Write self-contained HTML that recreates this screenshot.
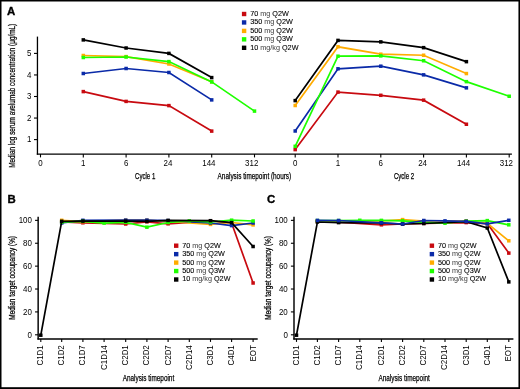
<!DOCTYPE html>
<html><head><meta charset="utf-8"><style>
html,body{margin:0;padding:0;background:#fff;}
body{width:520px;height:389px;overflow:hidden;font-family:"Liberation Sans",sans-serif;}
svg{display:block;will-change:transform;}
</style></head><body>
<svg width="520" height="389" viewBox="0 0 520 389" style="font-family:'Liberation Sans',sans-serif">
<rect width="520" height="389" fill="#fff"/>
<text x="7.00" y="14.90" font-size="11.4" text-anchor="start" font-weight="bold" fill="#000" stroke="#000" stroke-width="0.35">A</text>
<line x1="37.45" y1="36.60" x2="37.45" y2="154.70" stroke="#000" stroke-width="1.3"/>
<line x1="36.80" y1="154.05" x2="511.90" y2="154.05" stroke="#000" stroke-width="1.35"/>
<line x1="34.00" y1="139.60" x2="37.45" y2="139.60" stroke="#000" stroke-width="1.1"/>
<text x="31.30" y="142.20" font-size="8.2" text-anchor="end" textLength="4.42" lengthAdjust="spacingAndGlyphs" fill="#000" >1</text>
<line x1="34.00" y1="118.05" x2="37.45" y2="118.05" stroke="#000" stroke-width="1.1"/>
<text x="31.30" y="120.65" font-size="8.2" text-anchor="end" textLength="4.42" lengthAdjust="spacingAndGlyphs" fill="#000" >2</text>
<line x1="34.00" y1="96.50" x2="37.45" y2="96.50" stroke="#000" stroke-width="1.1"/>
<text x="31.30" y="99.10" font-size="8.2" text-anchor="end" textLength="4.42" lengthAdjust="spacingAndGlyphs" fill="#000" >3</text>
<line x1="34.00" y1="74.95" x2="37.45" y2="74.95" stroke="#000" stroke-width="1.1"/>
<text x="31.30" y="77.55" font-size="8.2" text-anchor="end" textLength="4.42" lengthAdjust="spacingAndGlyphs" fill="#000" >4</text>
<line x1="34.00" y1="53.40" x2="37.45" y2="53.40" stroke="#000" stroke-width="1.1"/>
<text x="31.30" y="56.00" font-size="8.2" text-anchor="end" textLength="4.42" lengthAdjust="spacingAndGlyphs" fill="#000" >5</text>
<line x1="40.50" y1="154.00" x2="40.50" y2="157.40" stroke="#000" stroke-width="1.1"/>
<text x="40.50" y="165.80" font-size="8.2" text-anchor="middle" textLength="4.42" lengthAdjust="spacingAndGlyphs" fill="#000" >0</text>
<line x1="83.30" y1="154.00" x2="83.30" y2="157.40" stroke="#000" stroke-width="1.1"/>
<text x="83.30" y="165.80" font-size="8.2" text-anchor="middle" textLength="4.42" lengthAdjust="spacingAndGlyphs" fill="#000" >1</text>
<line x1="126.10" y1="154.00" x2="126.10" y2="157.40" stroke="#000" stroke-width="1.1"/>
<text x="126.10" y="165.80" font-size="8.2" text-anchor="middle" textLength="4.42" lengthAdjust="spacingAndGlyphs" fill="#000" >6</text>
<line x1="168.90" y1="154.00" x2="168.90" y2="157.40" stroke="#000" stroke-width="1.1"/>
<text x="167.90" y="165.80" font-size="8.2" text-anchor="middle" textLength="8.85" lengthAdjust="spacingAndGlyphs" fill="#000" >24</text>
<line x1="211.70" y1="154.00" x2="211.70" y2="157.40" stroke="#000" stroke-width="1.1"/>
<text x="208.90" y="165.80" font-size="8.2" text-anchor="middle" textLength="13.27" lengthAdjust="spacingAndGlyphs" fill="#000" >144</text>
<line x1="254.50" y1="154.00" x2="254.50" y2="157.40" stroke="#000" stroke-width="1.1"/>
<text x="251.70" y="165.80" font-size="8.2" text-anchor="middle" textLength="13.27" lengthAdjust="spacingAndGlyphs" fill="#000" >312</text>
<line x1="295.20" y1="154.00" x2="295.20" y2="157.40" stroke="#000" stroke-width="1.1"/>
<text x="295.20" y="165.80" font-size="8.2" text-anchor="middle" textLength="4.42" lengthAdjust="spacingAndGlyphs" fill="#000" >0</text>
<line x1="338.00" y1="154.00" x2="338.00" y2="157.40" stroke="#000" stroke-width="1.1"/>
<text x="338.00" y="165.80" font-size="8.2" text-anchor="middle" textLength="4.42" lengthAdjust="spacingAndGlyphs" fill="#000" >1</text>
<line x1="380.80" y1="154.00" x2="380.80" y2="157.40" stroke="#000" stroke-width="1.1"/>
<text x="380.80" y="165.80" font-size="8.2" text-anchor="middle" textLength="4.42" lengthAdjust="spacingAndGlyphs" fill="#000" >6</text>
<line x1="423.60" y1="154.00" x2="423.60" y2="157.40" stroke="#000" stroke-width="1.1"/>
<text x="422.60" y="165.80" font-size="8.2" text-anchor="middle" textLength="8.85" lengthAdjust="spacingAndGlyphs" fill="#000" >24</text>
<line x1="466.40" y1="154.00" x2="466.40" y2="157.40" stroke="#000" stroke-width="1.1"/>
<text x="463.60" y="165.80" font-size="8.2" text-anchor="middle" textLength="13.27" lengthAdjust="spacingAndGlyphs" fill="#000" >144</text>
<line x1="509.20" y1="154.00" x2="509.20" y2="157.40" stroke="#000" stroke-width="1.1"/>
<text x="506.40" y="165.80" font-size="8.2" text-anchor="middle" textLength="13.27" lengthAdjust="spacingAndGlyphs" fill="#000" >312</text>
<text x="135.00" y="178.70" font-size="8.8" text-anchor="start" textLength="20.30" lengthAdjust="spacingAndGlyphs" fill="#000" stroke="#000" stroke-width="0.25">Cycle 1</text>
<text x="393.90" y="178.70" font-size="8.8" text-anchor="start" textLength="20.30" lengthAdjust="spacingAndGlyphs" fill="#000" stroke="#000" stroke-width="0.25">Cycle 2</text>
<text x="217.60" y="178.60" font-size="8.8" text-anchor="start" textLength="73.60" lengthAdjust="spacingAndGlyphs" fill="#000" stroke="#000" stroke-width="0.25">Analysis timepoint (hours)</text>
<text x="14.80" y="167.80" font-size="8.2" text-anchor="start" textLength="144.00" lengthAdjust="spacingAndGlyphs" transform="rotate(-90 14.80 167.80)" fill="#000" stroke="#000" stroke-width="0.25">Median log serum avelumab concentration (μg/mL)</text>
<polyline points="83.30,91.60 126.10,101.40 168.90,105.60 211.70,131.10" fill="none" stroke="#c80a10" stroke-width="1.7" stroke-linejoin="miter"/>
<rect x="81.55" y="89.85" width="3.5" height="3.5" fill="#c80a10"/>
<rect x="124.35" y="99.65" width="3.5" height="3.5" fill="#c80a10"/>
<rect x="167.15" y="103.85" width="3.5" height="3.5" fill="#c80a10"/>
<rect x="209.95" y="129.35" width="3.5" height="3.5" fill="#c80a10"/>
<polyline points="83.30,73.50 126.10,68.50 168.90,72.50 211.70,99.90" fill="none" stroke="#0a2aa8" stroke-width="1.7" stroke-linejoin="miter"/>
<rect x="81.55" y="71.75" width="3.5" height="3.5" fill="#0a2aa8"/>
<rect x="124.35" y="66.75" width="3.5" height="3.5" fill="#0a2aa8"/>
<rect x="167.15" y="70.75" width="3.5" height="3.5" fill="#0a2aa8"/>
<rect x="209.95" y="98.15" width="3.5" height="3.5" fill="#0a2aa8"/>
<polyline points="83.30,55.50 126.10,56.60 168.90,64.00 211.70,81.80" fill="none" stroke="#ffac00" stroke-width="1.7" stroke-linejoin="miter"/>
<rect x="81.55" y="53.75" width="3.5" height="3.5" fill="#ffac00"/>
<rect x="124.35" y="54.85" width="3.5" height="3.5" fill="#ffac00"/>
<rect x="167.15" y="62.25" width="3.5" height="3.5" fill="#ffac00"/>
<rect x="209.95" y="80.05" width="3.5" height="3.5" fill="#ffac00"/>
<polyline points="83.30,57.50 126.10,57.00 168.90,61.60 211.70,81.90 254.50,111.10" fill="none" stroke="#1eff00" stroke-width="1.7" stroke-linejoin="miter"/>
<rect x="81.55" y="55.75" width="3.5" height="3.5" fill="#1eff00"/>
<rect x="124.35" y="55.25" width="3.5" height="3.5" fill="#1eff00"/>
<rect x="167.15" y="59.85" width="3.5" height="3.5" fill="#1eff00"/>
<rect x="209.95" y="80.15" width="3.5" height="3.5" fill="#1eff00"/>
<rect x="252.75" y="109.35" width="3.5" height="3.5" fill="#1eff00"/>
<polyline points="83.30,39.90 126.10,48.00 168.90,53.40 211.70,77.60" fill="none" stroke="#000000" stroke-width="1.7" stroke-linejoin="miter"/>
<rect x="81.55" y="38.15" width="3.5" height="3.5" fill="#000000"/>
<rect x="124.35" y="46.25" width="3.5" height="3.5" fill="#000000"/>
<rect x="167.15" y="51.65" width="3.5" height="3.5" fill="#000000"/>
<rect x="209.95" y="75.85" width="3.5" height="3.5" fill="#000000"/>
<polyline points="295.20,149.60 338.00,92.10 380.80,95.30 423.60,100.15 466.40,124.25" fill="none" stroke="#c80a10" stroke-width="1.7" stroke-linejoin="miter"/>
<rect x="293.45" y="147.85" width="3.5" height="3.5" fill="#c80a10"/>
<rect x="336.25" y="90.35" width="3.5" height="3.5" fill="#c80a10"/>
<rect x="379.05" y="93.55" width="3.5" height="3.5" fill="#c80a10"/>
<rect x="421.85" y="98.40" width="3.5" height="3.5" fill="#c80a10"/>
<rect x="464.65" y="122.50" width="3.5" height="3.5" fill="#c80a10"/>
<polyline points="295.20,131.00 338.00,68.80 380.80,66.20 423.60,74.85 466.40,87.85" fill="none" stroke="#0a2aa8" stroke-width="1.7" stroke-linejoin="miter"/>
<rect x="293.45" y="129.25" width="3.5" height="3.5" fill="#0a2aa8"/>
<rect x="336.25" y="67.05" width="3.5" height="3.5" fill="#0a2aa8"/>
<rect x="379.05" y="64.45" width="3.5" height="3.5" fill="#0a2aa8"/>
<rect x="421.85" y="73.10" width="3.5" height="3.5" fill="#0a2aa8"/>
<rect x="464.65" y="86.10" width="3.5" height="3.5" fill="#0a2aa8"/>
<polyline points="295.20,105.50 338.00,46.80 380.80,54.20 423.60,55.25 466.40,73.55" fill="none" stroke="#ffac00" stroke-width="1.7" stroke-linejoin="miter"/>
<rect x="293.45" y="103.75" width="3.5" height="3.5" fill="#ffac00"/>
<rect x="336.25" y="45.05" width="3.5" height="3.5" fill="#ffac00"/>
<rect x="379.05" y="52.45" width="3.5" height="3.5" fill="#ffac00"/>
<rect x="421.85" y="53.50" width="3.5" height="3.5" fill="#ffac00"/>
<rect x="464.65" y="71.80" width="3.5" height="3.5" fill="#ffac00"/>
<polyline points="295.20,146.30 338.00,56.20 380.80,55.90 423.60,60.75 466.40,81.65 509.20,96.25" fill="none" stroke="#1eff00" stroke-width="1.7" stroke-linejoin="miter"/>
<rect x="293.45" y="144.55" width="3.5" height="3.5" fill="#1eff00"/>
<rect x="336.25" y="54.45" width="3.5" height="3.5" fill="#1eff00"/>
<rect x="379.05" y="54.15" width="3.5" height="3.5" fill="#1eff00"/>
<rect x="421.85" y="59.00" width="3.5" height="3.5" fill="#1eff00"/>
<rect x="464.65" y="79.90" width="3.5" height="3.5" fill="#1eff00"/>
<rect x="507.45" y="94.50" width="3.5" height="3.5" fill="#1eff00"/>
<polyline points="295.20,100.60 338.00,40.40 380.80,41.90 423.60,47.65 466.40,61.65" fill="none" stroke="#000000" stroke-width="1.7" stroke-linejoin="miter"/>
<rect x="293.45" y="98.85" width="3.5" height="3.5" fill="#000000"/>
<rect x="336.25" y="38.65" width="3.5" height="3.5" fill="#000000"/>
<rect x="379.05" y="40.15" width="3.5" height="3.5" fill="#000000"/>
<rect x="421.85" y="45.90" width="3.5" height="3.5" fill="#000000"/>
<rect x="464.65" y="59.90" width="3.5" height="3.5" fill="#000000"/>
<rect x="241.90" y="11.80" width="4.4" height="4.4" fill="#c80a10"/>
<text x="250.20" y="15.90" font-size="7.5" text-anchor="start" textLength="38.61" lengthAdjust="spacingAndGlyphs" fill="#000" stroke="#000" stroke-width="0.1">70 <tspan fill="#383838" stroke="none">mg</tspan> Q2W</text>
<rect x="241.90" y="20.25" width="4.4" height="4.4" fill="#0a2aa8"/>
<text x="250.20" y="24.35" font-size="7.5" text-anchor="start" textLength="42.63" lengthAdjust="spacingAndGlyphs" fill="#000" stroke="#000" stroke-width="0.1">350 <tspan fill="#383838" stroke="none">mg</tspan> Q2W</text>
<rect x="241.90" y="28.70" width="4.4" height="4.4" fill="#ffac00"/>
<text x="250.20" y="32.80" font-size="7.5" text-anchor="start" textLength="42.63" lengthAdjust="spacingAndGlyphs" fill="#000" stroke="#000" stroke-width="0.1">500 <tspan fill="#383838" stroke="none">mg</tspan> Q2W</text>
<rect x="241.90" y="37.15" width="4.4" height="4.4" fill="#1eff00"/>
<text x="250.20" y="41.25" font-size="7.5" text-anchor="start" textLength="42.63" lengthAdjust="spacingAndGlyphs" fill="#000" stroke="#000" stroke-width="0.1">500 <tspan fill="#383838" stroke="none">mg</tspan> Q3W</text>
<rect x="241.90" y="45.60" width="4.4" height="4.4" fill="#000000"/>
<text x="250.20" y="49.70" font-size="7.5" text-anchor="start" textLength="48.26" lengthAdjust="spacingAndGlyphs" fill="#000" stroke="#000" stroke-width="0.1">10 <tspan fill="#383838" stroke="none">mg/kg</tspan> Q2W</text>
<text x="7.40" y="203.00" font-size="11.4" text-anchor="start" font-weight="bold" fill="#000" stroke="#000" stroke-width="0.35">B</text>
<line x1="38.15" y1="216.70" x2="38.15" y2="339.60" stroke="#000" stroke-width="1.45"/>
<line x1="37.45" y1="338.95" x2="257.70" y2="338.95" stroke="#000" stroke-width="1.45"/>
<line x1="35.05" y1="334.80" x2="38.15" y2="334.80" stroke="#000" stroke-width="1.1"/>
<text x="31.95" y="337.75" font-size="8.2" text-anchor="end" textLength="4.42" lengthAdjust="spacingAndGlyphs" fill="#000" >0</text>
<line x1="35.05" y1="311.91" x2="38.15" y2="311.91" stroke="#000" stroke-width="1.1"/>
<text x="31.95" y="314.86" font-size="8.2" text-anchor="end" textLength="8.85" lengthAdjust="spacingAndGlyphs" fill="#000" >20</text>
<line x1="35.05" y1="289.02" x2="38.15" y2="289.02" stroke="#000" stroke-width="1.1"/>
<text x="31.95" y="291.97" font-size="8.2" text-anchor="end" textLength="8.85" lengthAdjust="spacingAndGlyphs" fill="#000" >40</text>
<line x1="35.05" y1="266.14" x2="38.15" y2="266.14" stroke="#000" stroke-width="1.1"/>
<text x="31.95" y="269.09" font-size="8.2" text-anchor="end" textLength="8.85" lengthAdjust="spacingAndGlyphs" fill="#000" >60</text>
<line x1="35.05" y1="243.25" x2="38.15" y2="243.25" stroke="#000" stroke-width="1.1"/>
<text x="31.95" y="246.20" font-size="8.2" text-anchor="end" textLength="8.85" lengthAdjust="spacingAndGlyphs" fill="#000" >80</text>
<line x1="35.05" y1="220.36" x2="38.15" y2="220.36" stroke="#000" stroke-width="1.1"/>
<text x="31.95" y="223.31" font-size="8.2" text-anchor="end" textLength="13.27" lengthAdjust="spacingAndGlyphs" fill="#000" >100</text>
<line x1="40.80" y1="338.90" x2="40.80" y2="341.90" stroke="#000" stroke-width="1.1"/>
<text x="43.25" y="345.20" font-size="8.2" text-anchor="end" textLength="20.33" lengthAdjust="spacingAndGlyphs" transform="rotate(-90 43.25 345.20)" fill="#000" >C1D1</text>
<line x1="61.70" y1="338.90" x2="61.70" y2="341.90" stroke="#000" stroke-width="1.1"/>
<text x="64.15" y="345.20" font-size="8.2" text-anchor="end" textLength="20.33" lengthAdjust="spacingAndGlyphs" transform="rotate(-90 64.15 345.20)" fill="#000" >C1D2</text>
<line x1="82.90" y1="338.90" x2="82.90" y2="341.90" stroke="#000" stroke-width="1.1"/>
<text x="85.35" y="345.20" font-size="8.2" text-anchor="end" textLength="20.33" lengthAdjust="spacingAndGlyphs" transform="rotate(-90 85.35 345.20)" fill="#000" >C1D7</text>
<line x1="104.10" y1="338.90" x2="104.10" y2="341.90" stroke="#000" stroke-width="1.1"/>
<text x="106.55" y="345.20" font-size="8.2" text-anchor="end" textLength="24.76" lengthAdjust="spacingAndGlyphs" transform="rotate(-90 106.55 345.20)" fill="#000" >C1D14</text>
<line x1="125.70" y1="338.90" x2="125.70" y2="341.90" stroke="#000" stroke-width="1.1"/>
<text x="128.15" y="345.20" font-size="8.2" text-anchor="end" textLength="20.33" lengthAdjust="spacingAndGlyphs" transform="rotate(-90 128.15 345.20)" fill="#000" >C2D1</text>
<line x1="146.90" y1="338.90" x2="146.90" y2="341.90" stroke="#000" stroke-width="1.1"/>
<text x="149.35" y="345.20" font-size="8.2" text-anchor="end" textLength="20.33" lengthAdjust="spacingAndGlyphs" transform="rotate(-90 149.35 345.20)" fill="#000" >C2D2</text>
<line x1="168.10" y1="338.90" x2="168.10" y2="341.90" stroke="#000" stroke-width="1.1"/>
<text x="170.55" y="345.20" font-size="8.2" text-anchor="end" textLength="20.33" lengthAdjust="spacingAndGlyphs" transform="rotate(-90 170.55 345.20)" fill="#000" >C2D7</text>
<line x1="189.30" y1="338.90" x2="189.30" y2="341.90" stroke="#000" stroke-width="1.1"/>
<text x="191.75" y="345.20" font-size="8.2" text-anchor="end" textLength="24.76" lengthAdjust="spacingAndGlyphs" transform="rotate(-90 191.75 345.20)" fill="#000" >C2D14</text>
<line x1="210.50" y1="338.90" x2="210.50" y2="341.90" stroke="#000" stroke-width="1.1"/>
<text x="212.95" y="345.20" font-size="8.2" text-anchor="end" textLength="20.33" lengthAdjust="spacingAndGlyphs" transform="rotate(-90 212.95 345.20)" fill="#000" >C3D1</text>
<line x1="231.60" y1="338.90" x2="231.60" y2="341.90" stroke="#000" stroke-width="1.1"/>
<text x="234.05" y="345.20" font-size="8.2" text-anchor="end" textLength="20.33" lengthAdjust="spacingAndGlyphs" transform="rotate(-90 234.05 345.20)" fill="#000" >C4D1</text>
<line x1="253.10" y1="338.90" x2="253.10" y2="341.90" stroke="#000" stroke-width="1.1"/>
<text x="255.55" y="345.20" font-size="8.2" text-anchor="end" textLength="16.35" lengthAdjust="spacingAndGlyphs" transform="rotate(-90 255.55 345.20)" fill="#000" >EOT</text>
<text x="122.70" y="381.35" font-size="8.8" text-anchor="start" textLength="51.50" lengthAdjust="spacingAndGlyphs" fill="#000" stroke="#000" stroke-width="0.25">Analysis timepoint</text>
<text x="15.00" y="319.70" font-size="8.2" text-anchor="start" textLength="83.70" lengthAdjust="spacingAndGlyphs" transform="rotate(-90 15.00 319.70)" fill="#000" stroke="#000" stroke-width="0.25">Median target occupancy (%)</text>
<polyline points="61.70,221.80 82.90,222.80 125.70,224.00 146.90,221.80 168.10,223.80 210.50,221.00 231.60,223.00 253.10,283.00" fill="none" stroke="#c80a10" stroke-width="1.7" stroke-linejoin="miter"/>
<rect x="59.95" y="220.05" width="3.5" height="3.5" fill="#c80a10"/>
<rect x="81.15" y="221.05" width="3.5" height="3.5" fill="#c80a10"/>
<rect x="123.95" y="222.25" width="3.5" height="3.5" fill="#c80a10"/>
<rect x="145.15" y="220.05" width="3.5" height="3.5" fill="#c80a10"/>
<rect x="166.35" y="222.05" width="3.5" height="3.5" fill="#c80a10"/>
<rect x="208.75" y="219.25" width="3.5" height="3.5" fill="#c80a10"/>
<rect x="229.85" y="221.25" width="3.5" height="3.5" fill="#c80a10"/>
<rect x="251.35" y="281.25" width="3.5" height="3.5" fill="#c80a10"/>
<polyline points="61.70,220.30 82.90,221.60 125.70,220.20 146.90,220.20 168.10,221.50 210.50,224.40 231.60,222.50 253.10,224.90" fill="none" stroke="#ffac00" stroke-width="1.7" stroke-linejoin="miter"/>
<rect x="59.95" y="218.55" width="3.5" height="3.5" fill="#ffac00"/>
<rect x="81.15" y="219.85" width="3.5" height="3.5" fill="#ffac00"/>
<rect x="123.95" y="218.45" width="3.5" height="3.5" fill="#ffac00"/>
<rect x="145.15" y="218.45" width="3.5" height="3.5" fill="#ffac00"/>
<rect x="166.35" y="219.75" width="3.5" height="3.5" fill="#ffac00"/>
<rect x="208.75" y="222.65" width="3.5" height="3.5" fill="#ffac00"/>
<rect x="229.85" y="220.75" width="3.5" height="3.5" fill="#ffac00"/>
<rect x="251.35" y="223.15" width="3.5" height="3.5" fill="#ffac00"/>
<polyline points="61.70,223.00 82.90,220.30 125.70,220.10 146.90,220.10 168.10,220.60 210.50,223.00 231.60,225.60 253.10,223.00" fill="none" stroke="#0a2aa8" stroke-width="1.7" stroke-linejoin="miter"/>
<rect x="59.95" y="221.25" width="3.5" height="3.5" fill="#0a2aa8"/>
<rect x="81.15" y="218.55" width="3.5" height="3.5" fill="#0a2aa8"/>
<rect x="123.95" y="218.35" width="3.5" height="3.5" fill="#0a2aa8"/>
<rect x="145.15" y="218.35" width="3.5" height="3.5" fill="#0a2aa8"/>
<rect x="166.35" y="218.85" width="3.5" height="3.5" fill="#0a2aa8"/>
<rect x="208.75" y="221.25" width="3.5" height="3.5" fill="#0a2aa8"/>
<rect x="229.85" y="223.85" width="3.5" height="3.5" fill="#0a2aa8"/>
<rect x="251.35" y="221.25" width="3.5" height="3.5" fill="#0a2aa8"/>
<polyline points="61.70,222.20 82.90,221.30 104.10,223.10 125.70,222.30 146.90,227.20 168.10,222.50 189.30,220.90 210.50,222.00 231.60,220.20 253.10,221.00" fill="none" stroke="#1eff00" stroke-width="1.7" stroke-linejoin="miter"/>
<rect x="59.95" y="220.45" width="3.5" height="3.5" fill="#1eff00"/>
<rect x="81.15" y="219.55" width="3.5" height="3.5" fill="#1eff00"/>
<rect x="102.35" y="221.35" width="3.5" height="3.5" fill="#1eff00"/>
<rect x="123.95" y="220.55" width="3.5" height="3.5" fill="#1eff00"/>
<rect x="145.15" y="225.45" width="3.5" height="3.5" fill="#1eff00"/>
<rect x="166.35" y="220.75" width="3.5" height="3.5" fill="#1eff00"/>
<rect x="187.55" y="219.15" width="3.5" height="3.5" fill="#1eff00"/>
<rect x="208.75" y="220.25" width="3.5" height="3.5" fill="#1eff00"/>
<rect x="229.85" y="218.45" width="3.5" height="3.5" fill="#1eff00"/>
<rect x="251.35" y="219.25" width="3.5" height="3.5" fill="#1eff00"/>
<polyline points="40.80,335.20 61.70,221.30 82.90,221.10 125.70,221.10 146.90,221.40 168.10,220.40 210.50,220.70 231.60,222.60 253.10,246.50" fill="none" stroke="#000000" stroke-width="1.7" stroke-linejoin="miter"/>
<rect x="39.05" y="333.45" width="3.5" height="3.5" fill="#000000"/>
<rect x="59.95" y="219.55" width="3.5" height="3.5" fill="#000000"/>
<rect x="81.15" y="219.35" width="3.5" height="3.5" fill="#000000"/>
<rect x="123.95" y="219.35" width="3.5" height="3.5" fill="#000000"/>
<rect x="145.15" y="219.65" width="3.5" height="3.5" fill="#000000"/>
<rect x="166.35" y="218.65" width="3.5" height="3.5" fill="#000000"/>
<rect x="208.75" y="218.95" width="3.5" height="3.5" fill="#000000"/>
<rect x="229.85" y="220.85" width="3.5" height="3.5" fill="#000000"/>
<rect x="251.35" y="244.75" width="3.5" height="3.5" fill="#000000"/>
<rect x="174.00" y="243.50" width="4.4" height="4.4" fill="#c80a10"/>
<text x="182.20" y="247.60" font-size="7.5" text-anchor="start" textLength="38.61" lengthAdjust="spacingAndGlyphs" fill="#000" stroke="#000" stroke-width="0.1">70 <tspan fill="#383838" stroke="none">mg</tspan> Q2W</text>
<rect x="174.00" y="251.95" width="4.4" height="4.4" fill="#0a2aa8"/>
<text x="182.20" y="256.05" font-size="7.5" text-anchor="start" textLength="42.63" lengthAdjust="spacingAndGlyphs" fill="#000" stroke="#000" stroke-width="0.1">350 <tspan fill="#383838" stroke="none">mg</tspan> Q2W</text>
<rect x="174.00" y="260.40" width="4.4" height="4.4" fill="#ffac00"/>
<text x="182.20" y="264.50" font-size="7.5" text-anchor="start" textLength="42.63" lengthAdjust="spacingAndGlyphs" fill="#000" stroke="#000" stroke-width="0.1">500 <tspan fill="#383838" stroke="none">mg</tspan> Q2W</text>
<rect x="174.00" y="268.85" width="4.4" height="4.4" fill="#1eff00"/>
<text x="182.20" y="272.95" font-size="7.5" text-anchor="start" textLength="42.63" lengthAdjust="spacingAndGlyphs" fill="#000" stroke="#000" stroke-width="0.1">500 <tspan fill="#383838" stroke="none">mg</tspan> Q3W</text>
<rect x="174.00" y="277.30" width="4.4" height="4.4" fill="#000000"/>
<text x="182.20" y="281.40" font-size="7.5" text-anchor="start" textLength="48.26" lengthAdjust="spacingAndGlyphs" fill="#000" stroke="#000" stroke-width="0.1">10 <tspan fill="#383838" stroke="none">mg/kg</tspan> Q2W</text>
<text x="266.90" y="203.00" font-size="11.4" text-anchor="start" font-weight="bold" fill="#000" stroke="#000" stroke-width="0.35">C</text>
<line x1="294.00" y1="216.70" x2="294.00" y2="339.60" stroke="#000" stroke-width="1.45"/>
<line x1="293.30" y1="338.95" x2="513.40" y2="338.95" stroke="#000" stroke-width="1.45"/>
<line x1="290.90" y1="334.80" x2="294.00" y2="334.80" stroke="#000" stroke-width="1.1"/>
<text x="287.80" y="337.75" font-size="8.2" text-anchor="end" textLength="4.42" lengthAdjust="spacingAndGlyphs" fill="#000" >0</text>
<line x1="290.90" y1="311.91" x2="294.00" y2="311.91" stroke="#000" stroke-width="1.1"/>
<text x="287.80" y="314.86" font-size="8.2" text-anchor="end" textLength="8.85" lengthAdjust="spacingAndGlyphs" fill="#000" >20</text>
<line x1="290.90" y1="289.02" x2="294.00" y2="289.02" stroke="#000" stroke-width="1.1"/>
<text x="287.80" y="291.97" font-size="8.2" text-anchor="end" textLength="8.85" lengthAdjust="spacingAndGlyphs" fill="#000" >40</text>
<line x1="290.90" y1="266.14" x2="294.00" y2="266.14" stroke="#000" stroke-width="1.1"/>
<text x="287.80" y="269.09" font-size="8.2" text-anchor="end" textLength="8.85" lengthAdjust="spacingAndGlyphs" fill="#000" >60</text>
<line x1="290.90" y1="243.25" x2="294.00" y2="243.25" stroke="#000" stroke-width="1.1"/>
<text x="287.80" y="246.20" font-size="8.2" text-anchor="end" textLength="8.85" lengthAdjust="spacingAndGlyphs" fill="#000" >80</text>
<line x1="290.90" y1="220.36" x2="294.00" y2="220.36" stroke="#000" stroke-width="1.1"/>
<text x="287.80" y="223.31" font-size="8.2" text-anchor="end" textLength="13.27" lengthAdjust="spacingAndGlyphs" fill="#000" >100</text>
<line x1="296.50" y1="338.90" x2="296.50" y2="341.90" stroke="#000" stroke-width="1.1"/>
<text x="298.95" y="345.20" font-size="8.2" text-anchor="end" textLength="20.33" lengthAdjust="spacingAndGlyphs" transform="rotate(-90 298.95 345.20)" fill="#000" >C1D1</text>
<line x1="317.40" y1="338.90" x2="317.40" y2="341.90" stroke="#000" stroke-width="1.1"/>
<text x="319.85" y="345.20" font-size="8.2" text-anchor="end" textLength="20.33" lengthAdjust="spacingAndGlyphs" transform="rotate(-90 319.85 345.20)" fill="#000" >C1D2</text>
<line x1="338.60" y1="338.90" x2="338.60" y2="341.90" stroke="#000" stroke-width="1.1"/>
<text x="341.05" y="345.20" font-size="8.2" text-anchor="end" textLength="20.33" lengthAdjust="spacingAndGlyphs" transform="rotate(-90 341.05 345.20)" fill="#000" >C1D7</text>
<line x1="359.80" y1="338.90" x2="359.80" y2="341.90" stroke="#000" stroke-width="1.1"/>
<text x="362.25" y="345.20" font-size="8.2" text-anchor="end" textLength="24.76" lengthAdjust="spacingAndGlyphs" transform="rotate(-90 362.25 345.20)" fill="#000" >C1D14</text>
<line x1="381.40" y1="338.90" x2="381.40" y2="341.90" stroke="#000" stroke-width="1.1"/>
<text x="383.85" y="345.20" font-size="8.2" text-anchor="end" textLength="20.33" lengthAdjust="spacingAndGlyphs" transform="rotate(-90 383.85 345.20)" fill="#000" >C2D1</text>
<line x1="402.60" y1="338.90" x2="402.60" y2="341.90" stroke="#000" stroke-width="1.1"/>
<text x="405.05" y="345.20" font-size="8.2" text-anchor="end" textLength="20.33" lengthAdjust="spacingAndGlyphs" transform="rotate(-90 405.05 345.20)" fill="#000" >C2D2</text>
<line x1="423.80" y1="338.90" x2="423.80" y2="341.90" stroke="#000" stroke-width="1.1"/>
<text x="426.25" y="345.20" font-size="8.2" text-anchor="end" textLength="20.33" lengthAdjust="spacingAndGlyphs" transform="rotate(-90 426.25 345.20)" fill="#000" >C2D7</text>
<line x1="445.00" y1="338.90" x2="445.00" y2="341.90" stroke="#000" stroke-width="1.1"/>
<text x="447.45" y="345.20" font-size="8.2" text-anchor="end" textLength="24.76" lengthAdjust="spacingAndGlyphs" transform="rotate(-90 447.45 345.20)" fill="#000" >C2D14</text>
<line x1="466.20" y1="338.90" x2="466.20" y2="341.90" stroke="#000" stroke-width="1.1"/>
<text x="468.65" y="345.20" font-size="8.2" text-anchor="end" textLength="20.33" lengthAdjust="spacingAndGlyphs" transform="rotate(-90 468.65 345.20)" fill="#000" >C3D1</text>
<line x1="487.30" y1="338.90" x2="487.30" y2="341.90" stroke="#000" stroke-width="1.1"/>
<text x="489.75" y="345.20" font-size="8.2" text-anchor="end" textLength="20.33" lengthAdjust="spacingAndGlyphs" transform="rotate(-90 489.75 345.20)" fill="#000" >C4D1</text>
<line x1="508.80" y1="338.90" x2="508.80" y2="341.90" stroke="#000" stroke-width="1.1"/>
<text x="511.25" y="345.20" font-size="8.2" text-anchor="end" textLength="16.35" lengthAdjust="spacingAndGlyphs" transform="rotate(-90 511.25 345.20)" fill="#000" >EOT</text>
<text x="378.40" y="381.35" font-size="8.8" text-anchor="start" textLength="51.50" lengthAdjust="spacingAndGlyphs" fill="#000" stroke="#000" stroke-width="0.25">Analysis timepoint</text>
<text x="270.70" y="319.70" font-size="8.2" text-anchor="start" textLength="83.70" lengthAdjust="spacingAndGlyphs" transform="rotate(-90 270.70 319.70)" fill="#000" stroke="#000" stroke-width="0.25">Median target occupancy (%)</text>
<polyline points="317.40,221.50 338.60,222.20 381.40,224.80 402.60,224.00 423.80,223.40 466.20,222.60 487.30,223.60 508.80,253.10" fill="none" stroke="#c80a10" stroke-width="1.7" stroke-linejoin="miter"/>
<rect x="315.65" y="219.75" width="3.5" height="3.5" fill="#c80a10"/>
<rect x="336.85" y="220.45" width="3.5" height="3.5" fill="#c80a10"/>
<rect x="379.65" y="223.05" width="3.5" height="3.5" fill="#c80a10"/>
<rect x="400.85" y="222.25" width="3.5" height="3.5" fill="#c80a10"/>
<rect x="422.05" y="221.65" width="3.5" height="3.5" fill="#c80a10"/>
<rect x="464.45" y="220.85" width="3.5" height="3.5" fill="#c80a10"/>
<rect x="485.55" y="221.85" width="3.5" height="3.5" fill="#c80a10"/>
<rect x="507.05" y="251.35" width="3.5" height="3.5" fill="#c80a10"/>
<polyline points="317.40,221.00 338.60,221.00 381.40,221.00 402.60,219.60 423.80,221.00 466.20,221.00 487.30,223.40 508.80,240.80" fill="none" stroke="#ffac00" stroke-width="1.7" stroke-linejoin="miter"/>
<rect x="315.65" y="219.25" width="3.5" height="3.5" fill="#ffac00"/>
<rect x="336.85" y="219.25" width="3.5" height="3.5" fill="#ffac00"/>
<rect x="379.65" y="219.25" width="3.5" height="3.5" fill="#ffac00"/>
<rect x="400.85" y="217.85" width="3.5" height="3.5" fill="#ffac00"/>
<rect x="422.05" y="219.25" width="3.5" height="3.5" fill="#ffac00"/>
<rect x="464.45" y="219.25" width="3.5" height="3.5" fill="#ffac00"/>
<rect x="485.55" y="221.65" width="3.5" height="3.5" fill="#ffac00"/>
<rect x="507.05" y="239.05" width="3.5" height="3.5" fill="#ffac00"/>
<polyline points="317.40,220.60 338.60,220.60 359.80,220.30 381.40,220.40 402.60,220.80 423.80,222.30 445.00,223.20 466.20,221.20 487.30,220.60 508.80,224.80" fill="none" stroke="#1eff00" stroke-width="1.7" stroke-linejoin="miter"/>
<rect x="315.65" y="218.85" width="3.5" height="3.5" fill="#1eff00"/>
<rect x="336.85" y="218.85" width="3.5" height="3.5" fill="#1eff00"/>
<rect x="358.05" y="218.55" width="3.5" height="3.5" fill="#1eff00"/>
<rect x="379.65" y="218.65" width="3.5" height="3.5" fill="#1eff00"/>
<rect x="400.85" y="219.05" width="3.5" height="3.5" fill="#1eff00"/>
<rect x="422.05" y="220.55" width="3.5" height="3.5" fill="#1eff00"/>
<rect x="443.25" y="221.45" width="3.5" height="3.5" fill="#1eff00"/>
<rect x="464.45" y="219.45" width="3.5" height="3.5" fill="#1eff00"/>
<rect x="485.55" y="218.85" width="3.5" height="3.5" fill="#1eff00"/>
<rect x="507.05" y="223.05" width="3.5" height="3.5" fill="#1eff00"/>
<polyline points="296.50,335.20 317.40,222.00 338.60,222.60 381.40,223.00 402.60,224.00 423.80,223.50 466.20,221.60 487.30,228.00 508.80,281.90" fill="none" stroke="#000000" stroke-width="1.7" stroke-linejoin="miter"/>
<rect x="294.75" y="333.45" width="3.5" height="3.5" fill="#000000"/>
<rect x="315.65" y="220.25" width="3.5" height="3.5" fill="#000000"/>
<rect x="336.85" y="220.85" width="3.5" height="3.5" fill="#000000"/>
<rect x="379.65" y="221.25" width="3.5" height="3.5" fill="#000000"/>
<rect x="400.85" y="222.25" width="3.5" height="3.5" fill="#000000"/>
<rect x="422.05" y="221.75" width="3.5" height="3.5" fill="#000000"/>
<rect x="464.45" y="219.85" width="3.5" height="3.5" fill="#000000"/>
<rect x="485.55" y="226.25" width="3.5" height="3.5" fill="#000000"/>
<rect x="507.05" y="280.15" width="3.5" height="3.5" fill="#000000"/>
<polyline points="317.40,220.40 338.60,220.50 381.40,222.80 402.60,224.00 423.80,220.50 445.00,220.90 466.20,221.40 487.30,223.90 508.80,220.30" fill="none" stroke="#0a2aa8" stroke-width="1.7" stroke-linejoin="miter"/>
<rect x="315.65" y="218.65" width="3.5" height="3.5" fill="#0a2aa8"/>
<rect x="336.85" y="218.75" width="3.5" height="3.5" fill="#0a2aa8"/>
<rect x="379.65" y="221.05" width="3.5" height="3.5" fill="#0a2aa8"/>
<rect x="400.85" y="222.25" width="3.5" height="3.5" fill="#0a2aa8"/>
<rect x="422.05" y="218.75" width="3.5" height="3.5" fill="#0a2aa8"/>
<rect x="443.25" y="219.15" width="3.5" height="3.5" fill="#0a2aa8"/>
<rect x="464.45" y="219.65" width="3.5" height="3.5" fill="#0a2aa8"/>
<rect x="485.55" y="222.15" width="3.5" height="3.5" fill="#0a2aa8"/>
<rect x="507.05" y="218.55" width="3.5" height="3.5" fill="#0a2aa8"/>
<rect x="429.70" y="243.50" width="4.4" height="4.4" fill="#c80a10"/>
<text x="437.90" y="247.60" font-size="7.5" text-anchor="start" textLength="38.61" lengthAdjust="spacingAndGlyphs" fill="#000" stroke="#000" stroke-width="0.1">70 <tspan fill="#383838" stroke="none">mg</tspan> Q2W</text>
<rect x="429.70" y="251.95" width="4.4" height="4.4" fill="#0a2aa8"/>
<text x="437.90" y="256.05" font-size="7.5" text-anchor="start" textLength="42.63" lengthAdjust="spacingAndGlyphs" fill="#000" stroke="#000" stroke-width="0.1">350 <tspan fill="#383838" stroke="none">mg</tspan> Q2W</text>
<rect x="429.70" y="260.40" width="4.4" height="4.4" fill="#ffac00"/>
<text x="437.90" y="264.50" font-size="7.5" text-anchor="start" textLength="42.63" lengthAdjust="spacingAndGlyphs" fill="#000" stroke="#000" stroke-width="0.1">500 <tspan fill="#383838" stroke="none">mg</tspan> Q2W</text>
<rect x="429.70" y="268.85" width="4.4" height="4.4" fill="#1eff00"/>
<text x="437.90" y="272.95" font-size="7.5" text-anchor="start" textLength="42.63" lengthAdjust="spacingAndGlyphs" fill="#000" stroke="#000" stroke-width="0.1">500 <tspan fill="#383838" stroke="none">mg</tspan> Q3W</text>
<rect x="429.70" y="277.30" width="4.4" height="4.4" fill="#000000"/>
<text x="437.90" y="281.40" font-size="7.5" text-anchor="start" textLength="48.26" lengthAdjust="spacingAndGlyphs" fill="#000" stroke="#000" stroke-width="0.1">10 <tspan fill="#383838" stroke="none">mg/kg</tspan> Q2W</text>
<rect x="0" y="0" width="520" height="1.5" fill="#000"/>
<rect x="0" y="0" width="1.5" height="389" fill="#000"/>
<rect x="0" y="387.2" width="520" height="1.8" fill="#000"/>
<rect x="518.45" y="0" width="1.55" height="389" fill="#000"/>
</svg>
</body></html>
